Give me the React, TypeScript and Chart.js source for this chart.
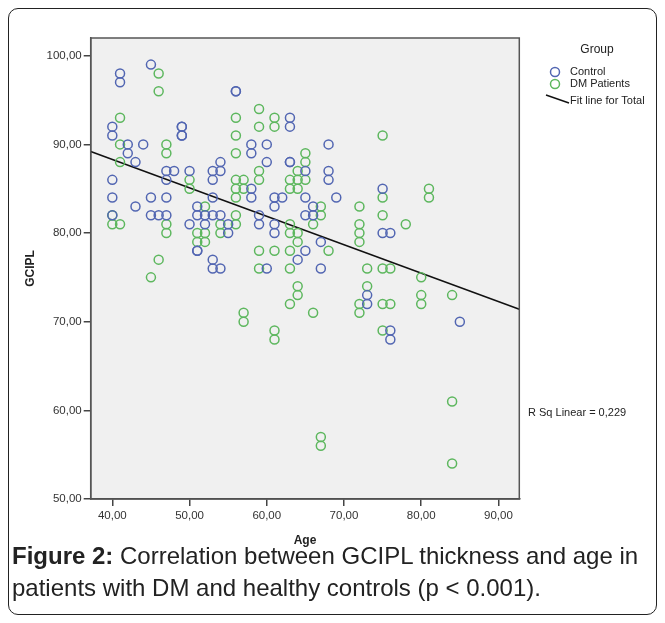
import React, { useEffect, useRef } from 'react';
import { Chart, registerables } from 'chart.js';

Chart.register(...registerables);

// ---- Data ----
const controlAges = [
  45, 41, 41, 56, 56, 40, 40, 49, 49, 49, 49, 42, 42, 44, 58, 58, 43, 40, 47, 48, 47, 50, 53, 53, 54, 54, 58,
  63, 63, 60, 68, 60, 63, 63, 65, 68, 68, 75,
  40, 45, 47, 43, 40, 45, 46, 47, 51, 51, 52, 53, 54, 58, 53, 50, 52, 55, 55, 51, 51, 53, 53, 54,
  61, 62, 61, 65, 69, 66, 66, 65, 59, 59, 61, 61, 67, 65, 64, 60, 67, 75, 76, 73, 73, 76, 85, 76,
];
const controlGcipl = [
  99, 98, 97, 96, 96, 92, 91, 92, 92, 91, 91, 90, 89, 90, 90, 89, 88, 86, 87, 87, 86, 87, 87, 86, 88, 87, 85,
  93, 92, 90, 90, 88, 88, 88, 87, 87, 86, 85,
  84, 84, 84, 83, 82, 82, 82, 82, 83, 82, 82, 82, 82, 84, 84, 81, 81, 81, 80, 78, 78, 77, 76, 76,
  84, 84, 83, 84, 84, 83, 82, 82, 82, 81, 81, 80, 79, 78, 77, 76, 76, 80, 80, 73, 72, 69, 70, 68,
];
const dmAges = [
  46, 46, 59, 41, 56, 59, 56, 41, 47, 47, 56, 41, 50, 56, 57, 59, 59,
  61, 61, 75, 65, 65, 64, 63, 64, 65, 63, 64, 81, 81,
  40, 40, 41, 47, 47, 52, 56, 54, 56, 51, 52, 51, 52, 54, 46, 45, 57, 57, 59, 59,
  50, 56, 57, 56,
  67, 67, 66, 63, 63, 64, 64, 61, 63, 68, 63, 64, 64, 63, 66, 72, 75, 75, 78, 72, 72, 72, 73, 75, 76,
  73, 72, 72, 75, 76, 61, 75, 80, 80, 80, 84, 61, 67, 67, 84, 84,
];
const dmGcipl = [
  98, 96, 94, 93, 93, 92, 91, 90, 90, 89, 89, 88, 86, 86, 86, 87, 86,
  93, 92, 91, 89, 88, 87, 86, 86, 86, 85, 85, 85, 84,
  82, 81, 81, 81, 80, 83, 82, 81, 81, 80, 80, 79, 79, 80, 77, 75, 71, 70, 78, 76,
  85, 85, 85, 84,
  83, 82, 81, 81, 80, 80, 79, 78, 78, 78, 76, 74, 73, 72, 71, 83, 84, 82, 81, 81, 80, 79, 76, 76, 76,
  74, 72, 71, 72, 72, 69, 69, 75, 73, 72, 73, 68, 57, 56, 61, 54,
];
const fitAges = [37.2, 92.7];
const fitGcipl = [89.2, 71.4];

const xTicks = [40, 50, 60, 70, 80, 90];
const yTicks = [50, 60, 70, 80, 90, 100];
const xRange = [37.2, 92.7];
const yRange = [50, 102];

const seriesLabels = ['Control', 'DM Patients', 'Fit line for Total'];
const legendTitle = 'Group';
const rSqText = 'R Sq Linear = 0,229';
const xTitle = 'Age';
const yTitle = 'GCIPL';

const BLUE = '#5266b2';
const GREEN = '#5db75e';
const FONT = "'Liberation Sans', Arial, sans-serif";

const fmt = (v: number) => v.toFixed(2).replace('.', ',');

const toPoints = (xs: number[], ys: number[]) => xs.map((x, i) => ({ x, y: ys[i] }));

const decorPlugin = {
  id: 'decor',
  beforeDraw(chart: any) {
    const { ctx, chartArea: a } = chart;
    ctx.save();
    ctx.fillStyle = '#f0f0f0';
    ctx.fillRect(a.left, a.top, a.right - a.left, a.bottom - a.top);
    ctx.restore();
  },
  afterDraw(chart: any) {
    const { ctx, chartArea: a } = chart;
    ctx.save();
    // frame
    ctx.strokeStyle = '#555';
    ctx.lineWidth = 1.5;
    ctx.strokeRect(a.left, a.top, a.right - a.left, a.bottom - a.top);

    ctx.fillStyle = '#222';
    // axis titles
    ctx.font = `bold 12px ${FONT}`;
    ctx.textAlign = 'center';
    ctx.textBaseline = 'middle';
    ctx.fillText(xTitle, (a.left + a.right) / 2, 532);
    ctx.save();
    ctx.translate(22, (a.top + a.bottom) / 2);
    ctx.rotate(-Math.PI / 2);
    ctx.fillText(yTitle, 0, 0);
    ctx.restore();

    // legend
    ctx.font = `12px ${FONT}`;
    ctx.textAlign = 'center';
    ctx.fillText(legendTitle, 588, 41);
    ctx.font = `11px ${FONT}`;
    ctx.textAlign = 'left';
    const circ = (x: number, y: number, c: string) => {
      ctx.beginPath();
      ctx.strokeStyle = c;
      ctx.lineWidth = 1.5;
      ctx.arc(x, y, 4.5, 0, Math.PI * 2);
      ctx.stroke();
    };
    circ(546, 63, BLUE);
    ctx.fillText(seriesLabels[0], 561, 63);
    circ(546, 75, GREEN);
    ctx.fillText(seriesLabels[1], 561, 75);
    ctx.beginPath();
    ctx.strokeStyle = '#111';
    ctx.lineWidth = 1.5;
    ctx.moveTo(537, 86);
    ctx.lineTo(560, 94);
    ctx.stroke();
    ctx.fillText(seriesLabels[2], 561, 92);

    // R squared
    ctx.fillText(rSqText, 519, 404);
    ctx.restore();
  },
};

export default function App() {
  const ref = useRef<HTMLCanvasElement | null>(null);

  useEffect(() => {
    if (!ref.current) return;
    const chart = new Chart(ref.current, {
      type: 'scatter',
      data: {
        datasets: [
          {
            label: seriesLabels[0],
            data: toPoints(controlAges, controlGcipl),
            borderColor: BLUE,
            backgroundColor: 'rgba(0,0,0,0)',
            borderWidth: 1.5,
            pointRadius: 4.5,
          },
          {
            label: seriesLabels[1],
            data: toPoints(dmAges, dmGcipl),
            borderColor: GREEN,
            backgroundColor: 'rgba(0,0,0,0)',
            borderWidth: 1.5,
            pointRadius: 4.5,
          },
          {
            type: 'line',
            label: seriesLabels[2],
            data: toPoints(fitAges, fitGcipl),
            borderColor: '#111',
            borderWidth: 1.5,
            pointRadius: 0,
            showLine: true,
            fill: false,
          } as any,
        ],
      },
      options: {
        animation: false,
        responsive: false,
        devicePixelRatio: 1,
        layout: { padding: { left: 11.7, right: 136.7, top: 29, bottom: 0 } },
        plugins: { legend: { display: false }, tooltip: { enabled: false } },
        scales: {
          x: {
            type: 'linear',
            min: xRange[0],
            max: xRange[1],
            afterBuildTicks: (s: any) => {
              s.ticks = xTicks.map((v) => ({ value: v }));
            },
            afterFit: (s: any) => {
              s.height = 50;
            },
            border: { color: '#444', width: 1.5 },
            grid: { drawOnChartArea: false, drawTicks: true, tickLength: 7, color: '#444', lineWidth: 1.5 },
            ticks: {
              padding: 3,
              color: '#333',
              font: { family: FONT, size: 11.5 },
              maxRotation: 0,
              callback: (v: any) => fmt(Number(v)),
            },
          },
          y: {
            type: 'linear',
            min: yRange[0],
            max: yRange[1],
            afterBuildTicks: (s: any) => {
              s.ticks = yTicks.map((v) => ({ value: v }));
            },
            afterFit: (s: any) => {
              s.width = 70;
            },
            border: { color: '#444', width: 1.5 },
            grid: { drawOnChartArea: false, drawTicks: true, tickLength: 7, color: '#444', lineWidth: 1.5 },
            ticks: {
              padding: 2,
              color: '#333',
              font: { family: FONT, size: 11.5 },
              callback: (v: any) => fmt(Number(v)),
            },
          },
        },
      },
      plugins: [decorPlugin],
    });
    return () => chart.destroy();
  }, []);

  return (
    <div
      style={{
        position: 'relative',
        width: 649,
        height: 607,
        boxSizing: 'border-box',
        border: '1px solid #222',
        borderRadius: 10,
        background: '#fff',
        fontFamily: FONT,
      }}
    >
      <canvas ref={ref} width={647} height={540} style={{ position: 'absolute', left: 0, top: 0, width: 647, height: 540 }} />
      <div
        style={{
          position: 'absolute',
          left: 3,
          top: 531,
          fontSize: 24,
          lineHeight: '32px',
          color: '#222',
          whiteSpace: 'nowrap',
        }}
      >
        <b>Figure 2:</b> Correlation between GCIPL thickness and age in
        <br />
        patients with DM and healthy controls (p &lt; 0.001).
      </div>
    </div>
  );
}
